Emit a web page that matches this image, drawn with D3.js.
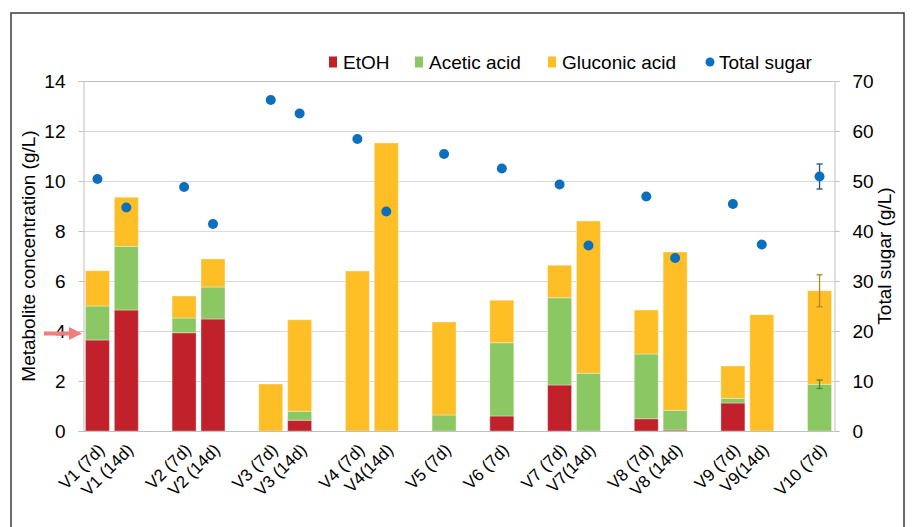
<style>body { margin: 0; }</style>
<svg id="chart" width="912" height="527" style="display:block;"></svg>

<script src="https://d3js.org/d3.v7.min.js"></script>
<script>
    // slot layout of the category axis ("" = empty gap slot)
    var slots = ["V1 (7d)", "V1 (14d)", "", "V2 (7d)", "V2 (14d)", "", "V3 (7d)", "V3 (14d)", "",
        "V4 (7d)", "V4(14d)", "", "V5 (7d)", "", "V6 (7d)", "", "V7 (7d)", "V7(14d)", "",
        "V8 (7d)", "V8 (14d)", "", "V9 (7d)", "V9(14d)", "", "V10 (7d)"]

    var categories = ["V1 (7d)", "V1 (14d)", "V2 (7d)", "V2 (14d)", "V3 (7d)", "V3 (14d)", "V4 (7d)", "V4(14d)",
        "V5 (7d)", "V6 (7d)", "V7 (7d)", "V7(14d)", "V8 (7d)", "V8 (14d)", "V9 (7d)", "V9(14d)", "V10 (7d)"]

    var etoh     = [3.64, 4.84, 3.93, 4.48, 0, 0.43, 0, 0, 0, 0.60, 1.84, 0, 0.49, 0.04, 1.12, 0, 0]
    var acetic   = [1.36, 2.55, 0.59, 1.28, 0, 0.36, 0, 0, 0.64, 2.93, 3.49, 2.31, 2.59, 0.79, 0.19, 0, 1.87]
    var gluconic = [1.41, 1.96, 0.88, 1.12, 1.88, 3.66, 6.40, 11.52, 3.72, 1.70, 1.30, 6.09, 1.76, 6.33, 1.29, 4.65, 3.74]
    var sugar    = [50.4, 44.7, 48.8, 41.4, 66.2, 63.5, 58.4, 43.9, 55.4, 52.5, 49.3, 37.1, 46.9, 34.6, 45.4, 37.3, 50.9]

    // standard deviations (only reported for V10)
    var aceticErr   = [0, 0, 0, 0, 0, 0, 0, 0, 0, 0, 0, 0, 0, 0, 0, 0, 0.17]
    var gluconicErr = [0, 0, 0, 0, 0, 0, 0, 0, 0, 0, 0, 0, 0, 0, 0, 0, 0.64]
    var sugarErr    = [0, 0, 0, 0, 0, 0, 0, 0, 0, 0, 0, 0, 0, 0, 0, 0, 2.5]

    var leftTicks = [0, 2, 4, 6, 8, 10, 12, 14]
    var rightTicks = [0, 10, 20, 30, 40, 50, 60, 70]
    var arrowValue = 3.9

    var seriesNames = ["EtOH", "Acetic acid", "Gluconic acid", "Total sugar"]
    var colors = ["#c1212a", "#8bc763", "#fdbe26", "#0b6fbd"]
    var errColors = ["#c1212a", "#4f8a32", "#b08a1e", "#1f4e79"]

    var svg = d3.select("#chart"),
        font = "'Liberation Sans', Arial, sans-serif",
        plotL = 83, plotR = 834, plotT = 81, plotB = 431

    svg.append("rect").attr("width", 912).attr("height", 527).attr("fill", "#fff")
    svg.append("rect")
        .attr("x", 11).attr("y", 13).attr("width", 893).attr("height", 530)
        .attr("fill", "none").attr("stroke", "#3a3a3a").attr("stroke-width", 1.5)

    var x = d3.scaleBand()
        .domain(d3.range(slots.length))
        .range([plotL, plotR])
        .paddingInner(0.17)
        .paddingOuter(0.085)

    var y = d3.scaleLinear().domain([0, 14]).range([plotB, plotT])
    var y2 = d3.scaleLinear().domain([0, 70]).range([plotB, plotT])

    function cx(i) { return x(slots.indexOf(categories[i])) + x.bandwidth() / 2 }

    // gridlines
    svg.append("g").selectAll("line")
        .data(leftTicks.slice(1))
        .enter().append("line")
        .attr("x1", plotL).attr("x2", plotR)
        .attr("y1", function(d) { return y(d) + 0.5 })
        .attr("y2", function(d) { return y(d) + 0.5 })
        .attr("stroke", function(d) { return d === 14 ? "#bdbdbd" : "#d9d9d9" })

    // stacked bars
    var rows = categories.map(function(c, i) {
        return { i: i, etoh: etoh[i], acetic: acetic[i], gluconic: gluconic[i] }
    })
    var stack = d3.stack().keys(["etoh", "acetic", "gluconic"])(rows)

    svg.append("g").selectAll("g")
        .data(stack)
        .enter().append("g")
        .attr("fill", function(d, k) { return colors[k] })
        .selectAll("rect")
        .data(function(d) { return d.filter(function(p) { return p[1] - p[0] > 0 }) })
        .enter().append("rect")
        .attr("x", function(p) { return x(slots.indexOf(categories[p.data.i])) })
        .attr("width", x.bandwidth())
        .attr("y", function(p) { return y(p[1]) })
        .attr("height", function(p) { return y(p[0]) - y(p[1]) })
        .attr("stroke", "#fff").attr("stroke-opacity", 0.35).attr("stroke-width", 1)

    // error bars
    function errBar(cxv, yTop, yBot, color) {
        var g = svg.append("g").attr("stroke", color).attr("stroke-width", 1.3)
        g.append("line").attr("x1", cxv).attr("x2", cxv).attr("y1", yTop).attr("y2", yBot)
        g.append("line").attr("x1", cxv - 3).attr("x2", cxv + 3).attr("y1", yTop).attr("y2", yTop)
        g.append("line").attr("x1", cxv - 3).attr("x2", cxv + 3).attr("y1", yBot).attr("y2", yBot)
    }
    categories.forEach(function(c, i) {
        var a = etoh[i] + acetic[i], g = a + gluconic[i]
        if (aceticErr[i]) errBar(cx(i), y(a + aceticErr[i]), y(a - aceticErr[i]), errColors[1])
        if (gluconicErr[i]) errBar(cx(i), y(g + gluconicErr[i]), y(g - gluconicErr[i]), errColors[2])
    })

    // total sugar dots
    categories.forEach(function(c, i) {
        if (sugarErr[i]) errBar(cx(i), y2(sugar[i] + sugarErr[i]), y2(sugar[i] - sugarErr[i]), errColors[3])
    })
    svg.append("g").selectAll("circle")
        .data(sugar)
        .enter().append("circle")
        .attr("cx", function(d, i) { return cx(i) })
        .attr("cy", function(d) { return y2(d) })
        .attr("r", 5)
        .attr("fill", colors[3])

    // axes
    var yAxis = svg.append("g")
        .attr("transform", "translate(" + (plotL + 0.5) + ",0)")
        .call(d3.axisLeft(y).tickValues(leftTicks).tickSize(5).tickPadding(13))
    var yAxis2 = svg.append("g")
        .attr("transform", "translate(" + (plotR + 0.5) + ",0)")
        .call(d3.axisRight(y2).tickValues(rightTicks).tickSize(5).tickPadding(13))

    ;[yAxis, yAxis2].forEach(function(a) {
        a.selectAll("path, line").attr("stroke", "#bfbfbf")
        a.selectAll("text").attr("font-family", font).attr("font-size", 19).attr("fill", "#000")
    })

    svg.append("line")
        .attr("x1", plotL).attr("x2", plotR)
        .attr("y1", plotB + 0.5).attr("y2", plotB + 0.5)
        .attr("stroke", "#bfbfbf")

    // category labels
    svg.append("g").selectAll("text")
        .data(categories)
        .enter().append("text")
        .attr("transform", function(d, i) { return "translate(" + (cx(i) + 8) + "," + (plotB + 20) + ") rotate(-45)" })
        .attr("text-anchor", "end")
        .attr("font-family", font).attr("font-size", 17)
        .text(function(d) { return d })

    // axis titles
    svg.append("text")
        .attr("transform", "translate(35," + ((plotT + plotB) / 2) + ") rotate(-90)")
        .attr("text-anchor", "middle")
        .attr("font-family", font).attr("font-size", 19)
        .text("Metabolite concentration (g/L)")

    svg.append("text")
        .attr("transform", "translate(891," + ((plotT + plotB) / 2) + ") rotate(-90)")
        .attr("text-anchor", "middle")
        .attr("font-family", font).attr("font-size", 19)
        .text("Total sugar (g/L)")

    // legend
    var legendX = [329, 415, 548, 706]
    var legend = svg.append("g").selectAll("g")
        .data(seriesNames)
        .enter().append("g")
        .attr("transform", function(d, i) { return "translate(" + legendX[i] + ",62)" })

    legend.append(function(d, i) {
        var el
        if (i === 3) {
            el = document.createElementNS("http://www.w3.org/2000/svg", "circle")
            d3.select(el).attr("cx", 4).attr("cy", 0).attr("r", 4.5)
        } else {
            el = document.createElementNS("http://www.w3.org/2000/svg", "rect")
            d3.select(el).attr("x", 0).attr("y", -5.5).attr("width", 8).attr("height", 11)
        }
        return el
    }).attr("fill", function(d, i) { return colors[i] })

    legend.append("text")
        .attr("x", function(d, i) { return i === 3 ? 13 : 14 })
        .attr("y", 7)
        .attr("font-family", font).attr("font-size", 19)
        .text(function(d) { return d })

    // red arrow pointing at the left axis
    var ay = y(arrowValue)
    svg.append("path")
        .attr("d", "M44," + (ay - 2) + "H69V" + (ay - 6.5) + "L82," + ay + "L69," + (ay + 6.5) + "V" + (ay + 2) + "H44Z")
        .attr("fill", "#ef7f7f")
</script>
